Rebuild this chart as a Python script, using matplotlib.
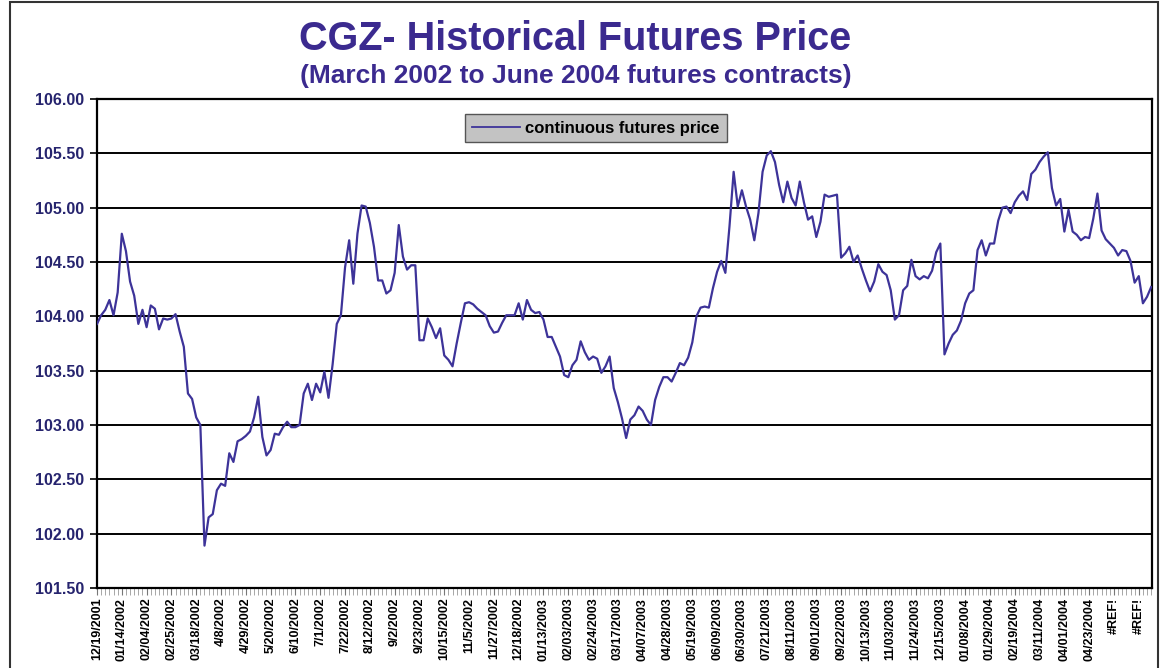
import numpy as np
import matplotlib
matplotlib.use('Agg')
import matplotlib.pyplot as plt
from matplotlib.patches import Rectangle

plt.rcParams['font.family'] = ['Liberation Sans', 'DejaVu Sans']

# ---------------- data ----------------
title = 'CGZ- Historical Futures Price'
subtitle = '(March 2002 to June 2004 futures contracts)'
series_name = 'continuous futures price'

tick_labels = [
    '12/19/2001', '01/14/2002', '02/04/2002', '02/25/2002', '03/18/2002',
    '4/8/2002', '4/29/2002', '5/20/2002', '6/10/2002', '7/1/2002',
    '7/22/2002', '8/12/2002', '9/2/2002', '9/23/2002', '10/15/2002',
    '11/5/2002', '11/27/2002', '12/18/2002', '01/13/2003', '02/03/2003',
    '02/24/2003', '03/17/2003', '04/07/2003', '04/28/2003', '05/19/2003',
    '06/09/2003', '06/30/2003', '07/21/2003', '08/11/2003', '09/01/2003',
    '09/22/2003', '10/13/2003', '11/03/2003', '11/24/2003', '12/15/2003',
    '01/08/2004', '01/29/2004', '02/19/2004', '03/11/2004', '04/01/2004',
    '04/23/2004', '#REF!', '#REF!',
]
points_per_label = 6

prices = [
    103.93, 104.01, 104.06, 104.15, 104.01, 104.22, 104.76, 104.60, 104.32, 104.19,
    103.93, 104.06, 103.90, 104.10, 104.07, 103.88, 103.98, 103.97, 103.98, 104.02,
    103.86, 103.72, 103.29, 103.24, 103.07, 103.00, 101.89, 102.15, 102.18, 102.40,
    102.46, 102.44, 102.74, 102.66, 102.85, 102.87, 102.90, 102.94, 103.07, 103.26,
    102.89, 102.72, 102.77, 102.92, 102.91, 102.98, 103.03, 102.98, 102.98, 103.00,
    103.29, 103.38, 103.23, 103.38, 103.30, 103.49, 103.25, 103.56, 103.93, 104.01,
    104.45, 104.70, 104.30, 104.76, 105.02, 105.01, 104.86, 104.64, 104.33, 104.33,
    104.21, 104.24, 104.40, 104.84, 104.55, 104.43, 104.47, 104.47, 103.78, 103.78,
    103.98, 103.90, 103.80, 103.89, 103.64, 103.60, 103.54, 103.75, 103.94, 104.12,
    104.13, 104.11, 104.07, 104.04, 104.01, 103.91, 103.85, 103.86, 103.94, 104.01,
    104.01, 104.01, 104.12, 103.97, 104.15, 104.06, 104.03, 104.04, 103.97, 103.81,
    103.81, 103.72, 103.63, 103.46, 103.44, 103.55, 103.60, 103.77, 103.67, 103.60,
    103.63, 103.61, 103.48, 103.54, 103.63, 103.34, 103.21, 103.06, 102.88, 103.05,
    103.09, 103.17, 103.13, 103.05, 103.00, 103.23, 103.35, 103.44, 103.44, 103.40,
    103.48, 103.57, 103.55, 103.62, 103.76, 104.00, 104.08, 104.09, 104.08, 104.26,
    104.41, 104.51, 104.40, 104.83, 105.33, 105.01, 105.16, 105.01, 104.89, 104.70,
    104.95, 105.33, 105.48, 105.52, 105.42, 105.21, 105.05, 105.24, 105.09, 105.02,
    105.24, 105.05, 104.89, 104.92, 104.73, 104.87, 105.12, 105.10, 105.11, 105.12,
    104.54, 104.58, 104.64, 104.50, 104.56, 104.44, 104.33, 104.23, 104.32, 104.48,
    104.41, 104.38, 104.24, 103.97, 104.01, 104.24, 104.28, 104.52, 104.37, 104.34,
    104.37, 104.35, 104.42, 104.59, 104.67, 103.65, 103.75, 103.83, 103.87, 103.96,
    104.12, 104.21, 104.24, 104.61, 104.70, 104.56, 104.67, 104.67, 104.88, 105.00,
    105.01, 104.95, 105.05, 105.11, 105.15, 105.07, 105.31, 105.35, 105.42, 105.47,
    105.51, 105.18, 105.02, 105.08, 104.78, 104.98, 104.78, 104.75, 104.70, 104.73,
    104.72, 104.90, 105.13, 104.79, 104.71, 104.67, 104.63, 104.56, 104.61, 104.60,
    104.51, 104.31, 104.37, 104.12, 104.18, 104.27,
]

y_min, y_max, y_step = 101.5, 106.0, 0.5

# ---------------- styling ----------------
TITLE_COLOR = '#3b2a8f'
LINE_COLOR = '#3d3399'
YLABEL_COLOR = '#26246e'

W, H = 1165, 668
fig = plt.figure(figsize=(W / 100, H / 100), dpi=100)
fig.patch.set_facecolor('white')

left, right, top, bottom = 97, 1152, 99, 588
ax = fig.add_axes([left / W, 1 - bottom / H, (right - left) / W, (bottom - top) / H])

x = np.arange(len(prices))
ax.plot(x, prices, color=LINE_COLOR, lw=1.6, label=series_name, zorder=3)

ax.set_xlim(0, len(prices) - 0.8)
ax.set_ylim(y_min, y_max)
ax.set_yticks(np.arange(y_min, y_max + 0.001, y_step))
ax.yaxis.set_major_formatter(matplotlib.ticker.FormatStrFormatter('%.2f'))
ax.grid(axis='y', color='black', lw=1.4, zorder=1)
ax.grid(axis='x', visible=False)

ax.set_xticks(np.arange(len(tick_labels)) * points_per_label)
ax.set_xticklabels(tick_labels, rotation=90, fontweight='bold', fontsize=9,
                   color='black')
ax.set_xticks(x, minor=True)
ax.tick_params(axis='x', which='major', length=5, width=0.8, color='#777777',
               direction='out', pad=2)
ax.tick_params(axis='x', which='minor', length=5, width=0.6, color='#999999',
               direction='out')
ax.tick_params(axis='y', which='major', length=5, width=1.2, color='black',
               direction='out', labelsize=11.5, labelcolor=YLABEL_COLOR, pad=4)
for lab in ax.get_yticklabels():
    lab.set_fontweight('bold')

for s in ax.spines.values():
    s.set_color('black')
    s.set_linewidth(1.6)

leg = ax.legend(loc='upper center', bbox_to_anchor=((596 - left) / (right - left), (bottom - 114) / (bottom - top)),
                frameon=True, fancybox=False, framealpha=1,
                facecolor='#c3c3c3', edgecolor='#555555',
                prop={'weight': 'bold', 'size': 12},
                handlelength=2.9, handletextpad=0.3, borderpad=0.4,
                borderaxespad=0)
leg.get_frame().set_linewidth(1.0)
for line in leg.get_lines():
    line.set_linewidth(1.3)

fig.text(0.494, 1 - 39 / H, title, ha='center', va='center',
         fontsize=28.5, fontweight='bold', color=TITLE_COLOR)
fig.text(0.494, 1 - 76 / H, subtitle, ha='center', va='center',
         fontsize=19, fontweight='bold', color=TITLE_COLOR)

fig.patches.append(Rectangle((10 / W, -0.01), (1158 - 10) / W, 1.01 - 2 / H,
                             transform=fig.transFigure, fill=False,
                             edgecolor='#333333', lw=1.5))

fig.savefig('out.png', dpi=100)
